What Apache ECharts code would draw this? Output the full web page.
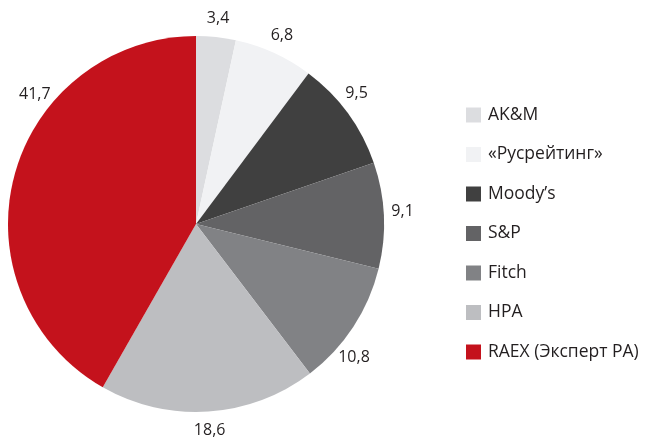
<!DOCTYPE html>
<html>
<head>
<meta charset="utf-8">
<script src="https://cdn.jsdelivr.net/npm/echarts@6/dist/echarts.min.js"></script>
<style>
  html, body { margin: 0; padding: 0; background: #fff; }
  #chart { width: 654px; height: 439px; }
</style>
</head>
<body>
<div id="chart"></div>
<script>
// данные диаграммы
var names = ['AK&M', '«Русрейтинг»', 'Moody’s', 'S&P', 'Fitch', 'НРА', 'RAEX (Эксперт РА)'];
var values = [3.4, 6.8, 9.5, 9.1, 10.8, 18.6, 41.7];
var colors = ['#dcdde0', '#f1f2f4', '#404040', '#636365', '#818285', '#bdbec1', '#c4121c'];

var cx = 196, cy = 224, r = 188;
var labelR = 207;
// поправки угла подписей (градусы), как разнесено в оригинале
var labelShift = [0, 0, -3, -1, 7, 0, 24];

// середины секторов (по часовой от 12 часов)
var total = values.reduce(function (a, b) { return a + b; }, 0);
var midAngles = [];
var acc = 0;
values.forEach(function (v, i) {
    midAngles.push(((acc + v / 2) / total * 360 + labelShift[i]) / 180 * Math.PI);
    acc += v;
});

var myChart = echarts.init(document.getElementById('chart'));
var option = {
    animation: false,
    legend: {
        orient: 'vertical',
        left: 461,
        top: 101,
        itemWidth: 15,
        itemHeight: 15,
        itemGap: 21.5,
        icon: 'rect',
        textStyle: {
            fontFamily: 'Open Sans',
            fontSize: 17.5,
            color: '#231f20',
            padding: [0, 0, 0, 2]
        },
        data: names
    },
    series: [{
        type: 'pie',
        center: [cx, cy],
        radius: [0, r],
        startAngle: 90,
        clockwise: true,
        label: {
            show: true,
            position: 'outside',
            fontFamily: 'Open Sans',
            fontSize: 16,
            color: '#231f20',
            width: 50,
            align: 'center',
            formatter: function (p) {
                return String(p.value).replace('.', ',');
            }
        },
        labelLine: { show: false },
        labelLayout: function (p) {
            var a = midAngles[p.dataIndex];
            return {
                x: cx + labelR * Math.sin(a),
                y: cy - labelR * Math.cos(a),
                align: 'center',
                verticalAlign: 'middle'
            };
        },
        emphasis: { disabled: true },
        data: names.map(function (n, i) {
            return { name: n, value: values[i], itemStyle: { color: colors[i] } };
        })
    }]
};
myChart.setOption(option);
</script>
</body>
</html>
